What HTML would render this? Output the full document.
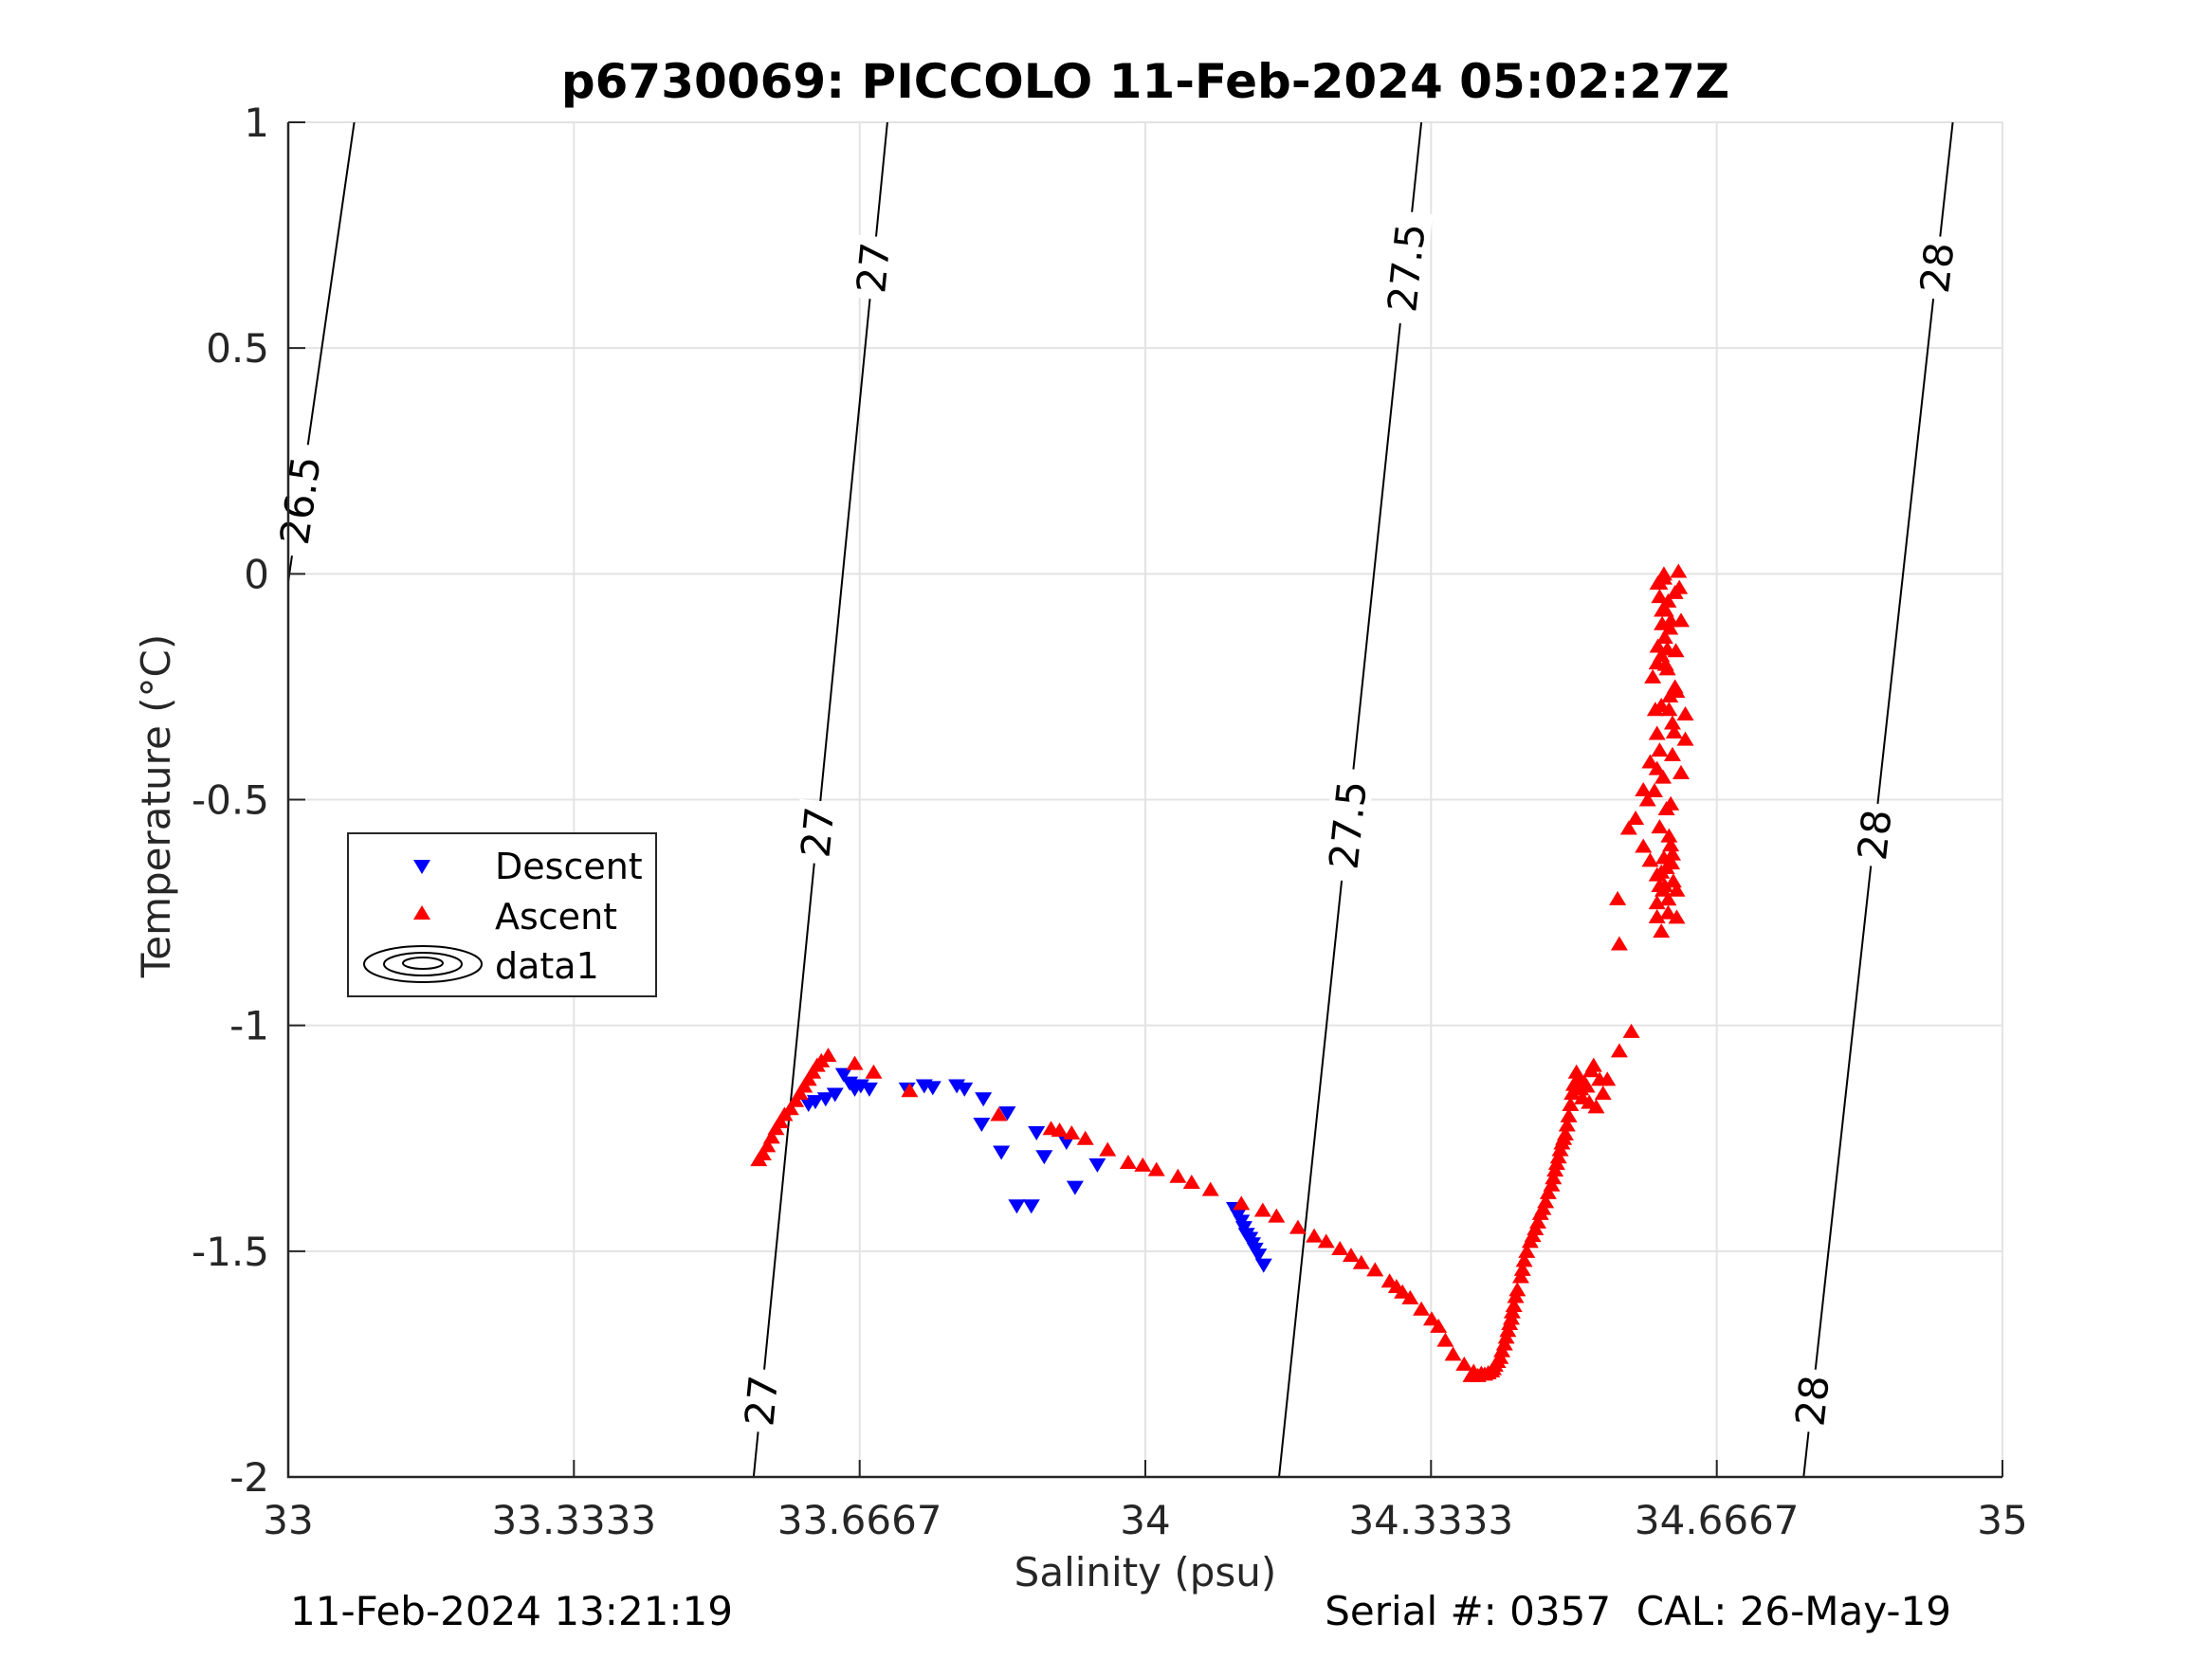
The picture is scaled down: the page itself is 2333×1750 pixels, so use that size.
<!DOCTYPE html>
<html><head><meta charset="utf-8"><style>
body{margin:0;background:#fff}
svg{display:block;font-family:"DejaVu Sans","Liberation Sans",sans-serif}
</style></head><body>
<svg id="chart" width="2333" height="1750" viewBox="0 0 2333 1750" xmlns="http://www.w3.org/2000/svg">
<rect width="2333" height="1750" fill="#fff"/>
<g id="grid"></g>
<g id="contours"></g>
<g id="marks"></g>
<g id="axes"></g>
<text x="1208" y="103" text-anchor="middle" font-size="50" font-weight="bold">p6730069: PICCOLO 11-Feb-2024 05:02:27Z</text>
<text x="1208" y="1673" text-anchor="middle" font-size="42" fill="#262626">Salinity (psu)</text>
<text transform="translate(179,850) rotate(-90)" text-anchor="middle" font-size="42" fill="#262626">Temperature (°C)</text>
<text x="306" y="1714" font-size="42">11-Feb-2024 13:21:19</text>
<text x="2058" y="1714" text-anchor="end" font-size="42" xml:space="preserve">Serial #: 0357  CAL: 26-May-19</text>
<g>
<rect x="367" y="879" width="325" height="172" fill="#fff" stroke="#262626" stroke-width="2"/>
<polygon points="436,907 454,907 445,922" fill="#00f"/>
<text x="522" y="927" font-size="38">Descent</text>
<polygon points="436,970 454,970 445,955" fill="#f00"/>
<text x="522" y="980" font-size="38">Ascent</text>
<g fill="none" stroke="#000" stroke-width="2">
<ellipse cx="446" cy="1017" rx="62" ry="19"/><ellipse cx="446" cy="1017" rx="41" ry="12"/><ellipse cx="446" cy="1016" rx="21" ry="6"/></g>
<text x="522" y="1032" font-size="38">data1</text>
</g>
</svg>
<script>
const xTicks=[33,33.3333,33.6667,34,34.3333,34.6667,35];
const xTickLabels=["33","33.3333","33.6667","34","34.3333","34.6667","35"];
const yTicks=[1,0.5,0,-0.5,-1,-1.5,-2];
const yTickLabels=["1","0.5","0","-0.5","-1","-1.5","-2"];
const sigmaLevels=[26.5,27,27.5,28];
const sigmaSAtTop=[33.077,33.699,34.322,34.942];
const sigmaSAtBottom=[32.85,33.543,34.156,34.768];
const sigmaLabelT=[[0.163],[0.678,-0.572,-1.831],[0.678,-0.556],[0.678,-0.578,-1.831]];
const descentS=[33.648,33.655,33.661,33.668,33.678,33.638,33.627,33.615,33.607,33.722,33.742,33.752,33.780,33.789,33.811,33.809,33.832,33.839,33.850,33.867,33.873,33.882,33.908,33.918,33.944,34.104,34.108,34.112,34.115,34.118,34.122,34.125,34.128,34.132,34.138];
const descentT=[-1.109,-1.128,-1.141,-1.134,-1.141,-1.153,-1.163,-1.169,-1.175,-1.141,-1.134,-1.138,-1.134,-1.141,-1.163,-1.219,-1.281,-1.194,-1.400,-1.400,-1.238,-1.291,-1.259,-1.359,-1.309,-1.406,-1.420,-1.434,-1.448,-1.463,-1.472,-1.484,-1.496,-1.509,-1.531];
const ascentS=[33.549,33.554,33.559,33.564,33.569,33.574,33.579,33.586,33.592,33.597,33.602,33.607,33.612,33.617,33.622,33.630,33.661,33.683,33.725,33.829,33.890,33.900,33.914,33.930,33.956,33.980,33.997,34.013,34.038,34.054,34.076,34.112,34.137,34.153,34.178,34.197,34.211,34.227,34.240,34.252,34.268,34.285,34.293,34.300,34.309,34.322,34.334,34.342,34.350,34.359,34.372,34.383,34.392,34.400,34.406,34.411,34.416,34.421,34.425,34.428,34.432,34.438,34.442,34.449,34.455,34.461,34.467,34.474,34.478,34.482,34.486,34.490,34.494,34.498,34.503,34.508,34.515,34.523,34.530,34.539,34.553,34.567,34.551,34.553,34.564,34.572,34.581,34.589,34.597,34.602,34.609,34.613,34.618,34.622,34.605,34.597,34.592,34.586,34.597,34.613,34.617,34.630,34.625,34.589,34.597,34.605,34.613,34.597,34.581,34.597,34.602,34.600,34.608,34.615,34.620,34.595,34.602,34.610,34.600,34.605,34.612,34.618,34.598,34.607,34.625,34.630,34.620,34.610,34.600,34.594,34.604,
34.380,34.388,34.396,34.404,34.408,34.414,34.419,34.423,34.427,34.430,34.434,34.440,34.445,34.452,34.458,34.464,34.470,34.476,34.480,34.484,34.488,34.492,34.496,34.500,34.505,34.510,34.512,34.518,34.520,34.526,34.534,34.600,34.603,34.606,34.609,34.612,34.615,34.600,34.604,34.608,34.611,34.614,34.602,34.606,34.610,34.616,34.620,34.598,34.603,34.607,34.611,34.615,34.619,34.623];
const ascentT=[-1.297,-1.284,-1.266,-1.247,-1.228,-1.213,-1.197,-1.184,-1.166,-1.150,-1.134,-1.119,-1.103,-1.088,-1.078,-1.066,-1.084,-1.103,-1.144,-1.197,-1.228,-1.232,-1.238,-1.250,-1.275,-1.303,-1.309,-1.319,-1.334,-1.347,-1.363,-1.394,-1.409,-1.422,-1.447,-1.466,-1.478,-1.494,-1.509,-1.525,-1.541,-1.566,-1.578,-1.590,-1.603,-1.628,-1.650,-1.666,-1.697,-1.728,-1.750,-1.766,-1.770,-1.769,-1.760,-1.744,-1.720,-1.690,-1.660,-1.634,-1.600,-1.556,-1.520,-1.478,-1.450,-1.416,-1.390,-1.353,-1.320,-1.291,-1.260,-1.240,-1.200,-1.150,-1.103,-1.140,-1.134,-1.088,-1.119,-1.119,-1.056,-1.013,-0.719,-0.819,-0.563,-0.541,-0.478,-0.416,-0.353,-0.291,-0.166,-0.103,-0.041,0.006,-0.009,-0.197,-0.228,-0.500,-0.431,-0.509,-0.350,-0.366,-0.103,-0.634,-0.666,-0.628,-0.600,-0.759,-0.603,-0.728,-0.791,-0.690,-0.650,-0.620,-0.260,-0.300,-0.180,-0.060,-0.020,0.000,-0.120,-0.250,-0.160,-0.080,-0.440,-0.310,-0.700,-0.750,-0.560,-0.480,-0.700,
-1.775,-1.775,-1.772,-1.765,-1.752,-1.735,-1.705,-1.675,-1.648,-1.620,-1.585,-1.540,-1.500,-1.465,-1.435,-1.405,-1.370,-1.337,-1.305,-1.275,-1.250,-1.220,-1.175,-1.130,-1.115,-1.160,-1.125,-1.170,-1.100,-1.180,-1.150,-0.050,-0.080,-0.140,-0.210,-0.270,-0.330,-0.390,-0.450,-0.520,-0.580,-0.640,-0.660,-0.690,-0.720,-0.680,-0.760,-0.020,-0.110,-0.200,-0.300,-0.400,-0.170,-0.030];
const X0=304,X1=2112,Y0=129,Y1=1558;
const sx=s=>X0+(s-33)/2*(X1-X0);
const sy=t=>Y0+(1-t)/3*(Y1-Y0);
const NS="http://www.w3.org/2000/svg";
function mk(tag,parent,attrs){const e=document.createElementNS(NS,tag);for(const k in attrs)e.setAttribute(k,attrs[k]);parent.appendChild(e);return e;}
const grid=document.getElementById('grid'),axes=document.getElementById('axes'),cont=document.getElementById('contours'),marks=document.getElementById('marks');
xTicks.forEach((v,i)=>{const x=sx(v);
 const g=mk('line',grid,{x1:x,x2:x,y1:Y0,y2:Y1,stroke:'#e3e3e3','stroke-width':2});
 
 const t=mk('line',axes,{x1:x,x2:x,y1:Y1,y2:Y1-18,stroke:'#262626','stroke-width':2});
 
 const l=mk('text',axes,{x:x,y:Y1+60,'text-anchor':'middle','font-size':42,fill:'#262626'});l.textContent=xTickLabels[i];
 });
yTicks.forEach((v,i)=>{const y=sy(v);
 const g=mk('line',grid,{x1:X0,x2:X1,y1:y,y2:y,stroke:'#e3e3e3','stroke-width':2});
 
 const t=mk('line',axes,{x1:X0,x2:X0+18,y1:y,y2:y,stroke:'#262626','stroke-width':2});
 
 const l=mk('text',axes,{x:X0-20,y:y+15,'text-anchor':'end','font-size':42,fill:'#262626'});l.textContent=yTickLabels[i];
 });
const ax=mk('path',axes,{d:`M${X0},${Y0}V${Y1}H${X1}`,fill:'none',stroke:'#262626','stroke-width':2.5});

const clip=mk('clipPath',cont,{id:'pc'});mk('rect',clip,{x:X0,y:Y0,width:X1-X0,height:Y1-Y0});
sigmaLevels.forEach((lv,i)=>{
 const sAt=t=>sigmaSAtBottom[i]+(t+2)/3*(sigmaSAtTop[i]-sigmaSAtBottom[i]);
 const ln=mk('line',cont,{x1:sx(sAt(1)),y1:sy(1),x2:sx(sAt(-2)),y2:sy(-2),stroke:'#000','stroke-width':2,'clip-path':'url(#pc)'});
 
 const dx=sx(sAt(1))-sx(sAt(-2)),dy=sy(1)-sy(-2);const ang=Math.atan2(dy,dx)*180/Math.PI;
 sigmaLabelT[i].forEach(t=>{const x=sx(sAt(t)),y=sy(t);
  const txt=String(lv);const w=txt.length*26+14;
  const r=mk('rect',cont,{x:x-w/2,y:y-22,width:w,height:44,fill:'#fff',transform:`rotate(${ang} ${x} ${y})`});
  
  const l=mk('text',cont,{x:x,y:y+15,'text-anchor':'middle','font-size':42,transform:`rotate(${ang} ${x} ${y})`});l.textContent=txt;
  });
});
descentS.forEach((s,i)=>{const x=sx(s),y=sy(descentT[i]);
 const p=mk('polygon',marks,{points:`${x-9},${y-7} ${x+9},${y-7} ${x},${y+8}`,fill:'#00f'});
 });
ascentS.forEach((s,i)=>{const x=sx(s),y=sy(ascentT[i]);
 const p=mk('polygon',marks,{points:`${x-9},${y+7} ${x+9},${y+7} ${x},${y-8}`,fill:'#f00'});
 });
</script>
</body></html>
